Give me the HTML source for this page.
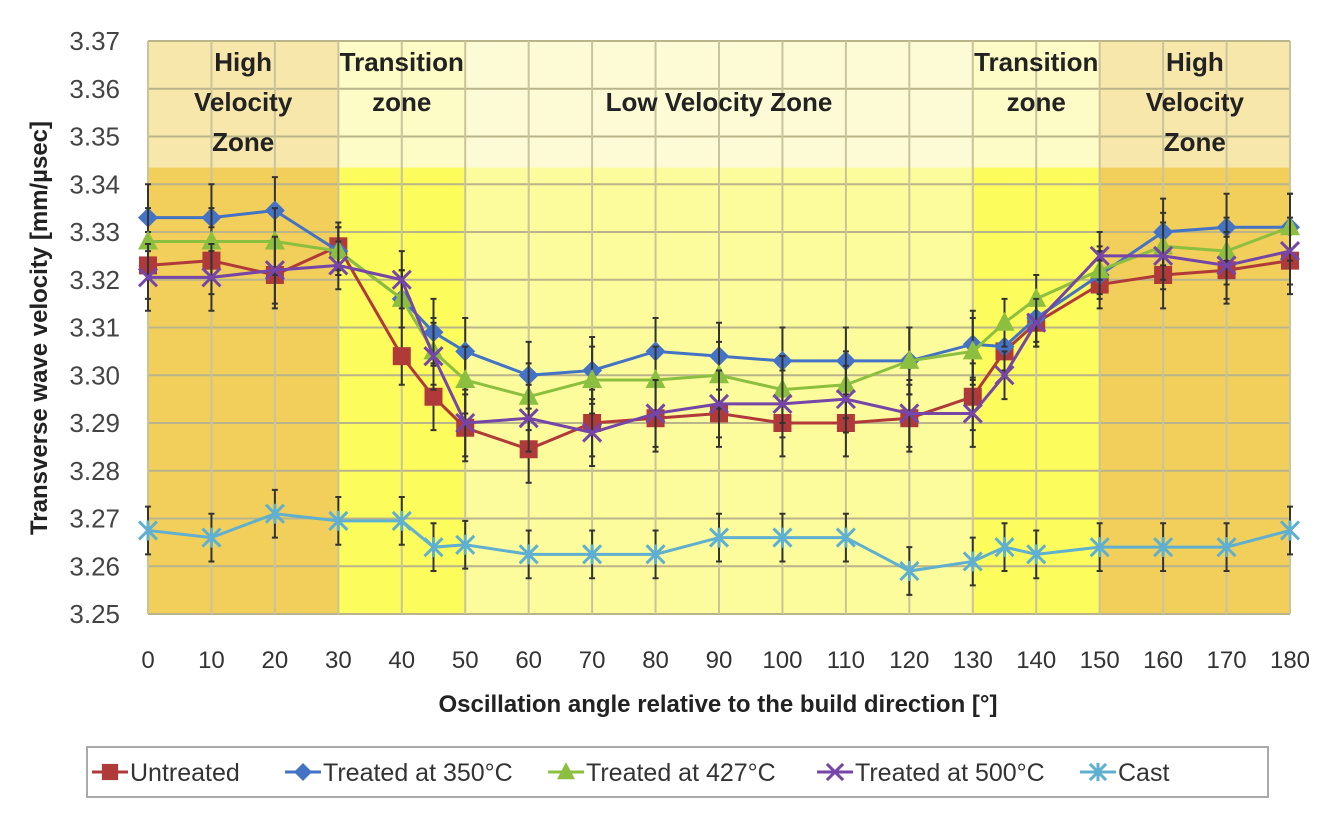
<!DOCTYPE html>
<html><head><meta charset="utf-8"><style>
body{margin:0;background:#fff;}
svg text{font-family:"Liberation Sans",sans-serif;}
</style></head><body>
<svg id="chart" width="1338" height="823" xmlns="http://www.w3.org/2000/svg">
<g id="bg"></g>
<g id="grid"></g>
<g id="zones"></g>
<g id="series"></g>
<g id="axes"></g>
<text transform="translate(47,328) rotate(-90)" text-anchor="middle" font-size="24" font-weight="bold" fill="#222">Transverse wave velocity [mm/µsec]</text>
<text x="718" y="712" text-anchor="middle" font-size="24" font-weight="bold" fill="#222">Oscillation angle relative to the build direction [°]</text>
<rect x="87" y="747" width="1181" height="50" fill="#fff" stroke="#aaa" stroke-width="2"/>
<g id="legend"></g>
</svg>
<script>
const angles=[0,10,20,30,40,45,50,60,70,80,90,100,110,120,130,135,140,150,160,170,180];
const untreated=[3.323,3.324,3.321,3.327,3.304,3.2955,3.289,3.2845,3.290,3.291,3.292,3.290,3.290,3.291,3.2955,3.305,3.311,3.319,3.321,3.322,3.324];
const t350=[3.333,3.333,3.3345,3.326,3.316,3.309,3.305,3.300,3.301,3.305,3.304,3.303,3.303,3.303,3.3065,3.306,3.312,3.321,3.330,3.331,3.331];
const t427=[3.328,3.328,3.328,3.326,3.316,3.305,3.299,3.2955,3.299,3.299,3.300,3.297,3.298,3.303,3.305,3.311,3.316,3.322,3.327,3.326,3.331];
const t500=[3.3205,3.3205,3.322,3.323,3.320,3.304,3.290,3.291,3.288,3.292,3.294,3.294,3.295,3.292,3.292,3.300,3.311,3.325,3.325,3.323,3.326];
const cast=[3.2675,3.266,3.271,3.2695,3.2695,3.264,3.2645,3.2625,3.2625,3.2625,3.266,3.266,3.266,3.259,3.261,3.264,3.2625,3.264,3.264,3.264,3.2675];
const errs=[0.007,0.007,0.007,0.005,0.006,0.007,0.007,0.007,0.007,0.007,0.007,0.007,0.007,0.007,0.007,0.005,0.005,0.005,0.007,0.007,0.007];
const castErr=[0.005,0.005,0.005,0.005,0.005,0.005,0.005,0.005,0.005,0.005,0.005,0.005,0.005,0.005,0.005,0.005,0.005,0.005,0.005,0.005,0.005];
const yTicks=[3.25,3.26,3.27,3.28,3.29,3.30,3.31,3.32,3.33,3.34,3.35,3.36,3.37];
const xTicks=[0,10,20,30,40,50,60,70,80,90,100,110,120,130,140,150,160,170,180];
const seriesNames=["Untreated","Treated at 350°C","Treated at 427°C","Treated at 500°C","Cast"];

const NS="http://www.w3.org/2000/svg";
const X0=148,X1=1290,Y0=614,Y1=41;
const x=a=>X0+(a/180)*(X1-X0);
const y=v=>Y0-(v-3.25)/(0.12)*(Y0-Y1);
function mk(tag,attrs,parent){const e=document.createElementNS(NS,tag);for(const k in attrs)e.setAttribute(k,attrs[k]);parent.appendChild(e);return e;}
const bg=document.getElementById('bg'),grid=document.getElementById('grid'),zones=document.getElementById('zones'),ser=document.getElementById('series'),axes=document.getElementById('axes'),leg=document.getElementById('legend');
const bandY=y(3.3435);
const regions=[[0,30,'#f1cf5a','#f7e7ab'],[30,50,'#fcfc5c','#fdfbc6'],[50,130,'#fcfc9c','#fdfbd6'],[130,150,'#fcfc5c','#fdfbc6'],[150,180,'#f1cf5a','#f7e7ab']];
regions.forEach(r=>{
 let e=mk('rect',{x:x(r[0]),y:bandY,width:x(r[1])-x(r[0]),height:Y0-bandY,fill:r[2]},bg);
 
 e=mk('rect',{x:x(r[0]),y:Y1,width:x(r[1])-x(r[0]),height:bandY-Y1,fill:r[3]},bg);
 
});
yTicks.forEach(t=>{
 let l=mk('line',{x1:X0,x2:X1,y1:y(t),y2:y(t),stroke:'#b9b48a','stroke-width':2},grid);
 
 let tx=mk('text',{x:120,y:y(t)+9,'text-anchor':'end','font-size':26,fill:'#444'},axes);tx.textContent=t.toFixed(2);
 
});
xTicks.forEach(t=>{
 let l=mk('line',{x1:x(t),x2:x(t),y1:Y1,y2:Y0,stroke:'#c9c49a','stroke-width':2},grid);
 
 let tx=mk('text',{x:x(t),y:668,'text-anchor':'middle','font-size':24,fill:'#333'},axes);tx.textContent=t;
 
});
const zl=[[15,['High','Velocity','Zone']],[40,['Transition','zone']],[90,['','Low Velocity Zone']],[140,['Transition','zone']],[165,['High','Velocity','Zone']]];
zl.forEach(z=>{z[1].forEach((s,i)=>{if(!s)return;let t=mk('text',{x:x(z[0]),y:71+i*40,'text-anchor':'middle','font-size':26,'font-weight':'bold',fill:'#222'},zones);t.textContent=s;
 });});
function marker(type,cx,cy,col,g,s){
 s=s||1;let e;
 if(type==='sq')e=mk('rect',{x:cx-9*s,y:cy-9*s,width:18*s,height:18*s,fill:col},g);
 else if(type==='di')e=mk('polygon',{points:`${cx},${cy-10*s} ${cx+10*s},${cy} ${cx},${cy+10*s} ${cx-10*s},${cy}`,fill:col},g);
 else if(type==='tr')e=mk('polygon',{points:`${cx},${cy-11*s} ${cx+10*s},${cy+8*s} ${cx-10*s},${cy+8*s}`,fill:col},g);
 else if(type==='x'){e=mk('path',{d:`M${cx-9*s},${cy-9*s}L${cx+9*s},${cy+9*s}M${cx+9*s},${cy-9*s}L${cx-9*s},${cy+9*s}`,stroke:col,'stroke-width':3,fill:'none'},g);}
 else {e=mk('path',{d:`M${cx-9*s},${cy-9*s}L${cx+9*s},${cy+9*s}M${cx+9*s},${cy-9*s}L${cx-9*s},${cy+9*s}M${cx},${cy-10*s}L${cx},${cy+10*s}`,stroke:col,'stroke-width':3,fill:'none'},g);}
 return e;
}
const defs=[[untreated,'#b03a3a','sq',errs],[t350,'#4472c4','di',errs],[t427,'#8cbf3f','tr',errs],[t500,'#7545a8','x',errs],[cast,'#5fb0d0','st',castErr]];
const names=['series-untreated','series-350','series-427','series-500','series-cast'];
defs.forEach((d,si)=>{
 const g=mk('g',{},ser);
 
 d[0].forEach((v,i)=>{
  let e=mk('path',{d:`M${x(angles[i])},${y(v-d[3][i])}V${y(v+d[3][i])}M${x(angles[i])-3},${y(v-d[3][i])}h6M${x(angles[i])-3},${y(v+d[3][i])}h6`,stroke:'#333','stroke-width':2},g);
  
 });
 const p=mk('polyline',{points:d[0].map((v,i)=>x(angles[i])+','+y(v)).join(' '),fill:'none',stroke:d[1],'stroke-width':3},g);
 
 d[0].forEach((v,i)=>{const m=marker(d[2],x(angles[i]),y(v),d[1],g);
  });
});
const lx=[92,285,548,817,1080];
defs.forEach((d,i)=>{
 const g=mk('g',{},leg);
 
 mk('line',{x1:lx[i],x2:lx[i]+36,y1:772,y2:772,stroke:d[1],'stroke-width':3},g);
 marker(d[2],lx[i]+18,772,d[1],g,0.9);
 const t=mk('text',{x:lx[i]+38,y:781,'font-size':25,fill:'#333'},g);t.textContent=seriesNames[i];
});
</script>
</body></html>
